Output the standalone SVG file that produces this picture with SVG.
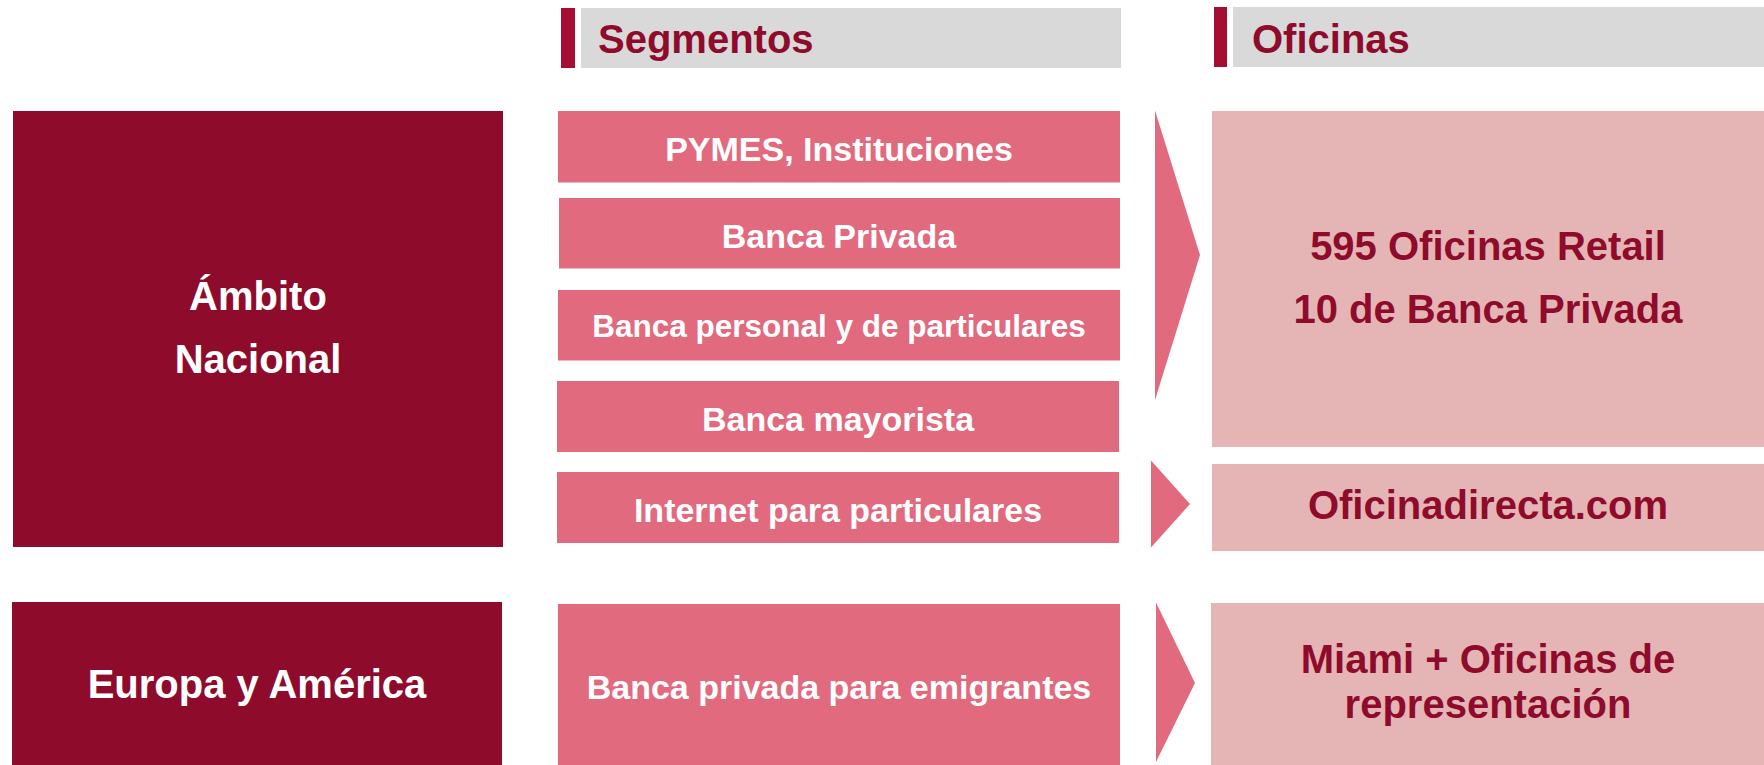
<svg xmlns="http://www.w3.org/2000/svg" width="1764" height="765" viewBox="0 0 1764 765">
<style>
text{font-family:"Liberation Sans",Arial,sans-serif;font-weight:bold}
.dark{fill:#8E0B2C}
.accent{fill:#A50E32}
.grey{fill:#D9D9D9}
.seg{fill:#E26A7E}
.off{fill:#E5B5B6}
.w{fill:#FFFFFF}
.r{fill:#8E0B2C}
.c{text-anchor:middle}
.s34{font-size:34px}
.s40{font-size:40px}
</style>
<rect width="1764" height="765" fill="#FFFFFF"/>
<g id="header-segmentos">
<rect class="accent" x="561" y="8" width="14" height="60"/>
<rect class="grey" x="581" y="8" width="540" height="60"/>
<text class="r s40" x="598" y="53">Segmentos</text>
</g>
<g id="header-oficinas">
<rect class="accent" x="1214" y="7" width="13" height="60"/>
<rect class="grey" x="1233" y="7" width="531" height="60"/>
<text class="r s40" x="1252" y="53">Oficinas</text>
</g>
<g id="ambito-nacional">
<rect class="dark" x="13" y="111" width="490" height="436"/>
<text class="w s40 c" x="258" y="310">Ámbito</text>
<text class="w s40 c" x="258" y="373">Nacional</text>
</g>
<g id="europa-america">
<rect class="dark" x="12" y="602" width="490" height="163"/>
<text class="w s40 c" x="257" y="698">Europa y América</text>
</g>
<g id="seg-pymes">
<rect class="seg" x="558" y="111" width="562" height="71.5"/>
<text class="w s34 c" x="839" y="161">PYMES, Instituciones</text>
</g>
<g id="seg-banca-privada">
<rect class="seg" x="559" y="198" width="561" height="70.5"/>
<text class="w s34 c" x="839" y="247.5">Banca Privada</text>
</g>
<g id="seg-banca-personal">
<rect class="seg" x="558" y="290" width="562" height="70.5"/>
<text class="w c" style="font-size:31.5px" x="839" y="336.5">Banca personal y de particulares</text>
</g>
<g id="seg-banca-mayorista">
<rect class="seg" x="557" y="381" width="562" height="71"/>
<text class="w s34 c" x="838" y="430.5">Banca mayorista</text>
</g>
<g id="seg-internet">
<rect class="seg" x="557" y="472" width="562" height="71"/>
<text class="w s34 c" x="838" y="521.5">Internet para particulares</text>
</g>
<g id="seg-emigrantes">
<rect class="seg" x="558" y="604" width="562" height="161"/>
<text class="w s34 c" x="839" y="699">Banca privada para emigrantes</text>
</g>
<g id="of-retail">
<rect class="off" x="1212" y="111" width="552" height="336"/>
<text class="r s40 c" x="1488" y="260">595 Oficinas Retail</text>
<text class="r s40 c" x="1488" y="322.5">10 de Banca Privada</text>
</g>
<g id="of-directa">
<rect class="off" x="1212" y="464" width="552" height="87"/>
<text class="r s40 c" x="1488" y="518.5">Oficinadirecta.com</text>
</g>
<g id="of-miami">
<rect class="off" x="1211" y="603" width="553" height="162"/>
<text class="r s40 c" x="1488" y="672.5">Miami + Oficinas de</text>
<text class="r s40 c" x="1488" y="717.5">representación</text>
</g>
<g id="connectors">
<polygon class="seg" points="1155,110.5 1200,255 1155,400"/>
<polygon class="seg" points="1151,460.5 1190,504 1151,547.5"/>
<polygon class="seg" points="1156,602.5 1195,683 1156,762"/>
</g>
</svg>
